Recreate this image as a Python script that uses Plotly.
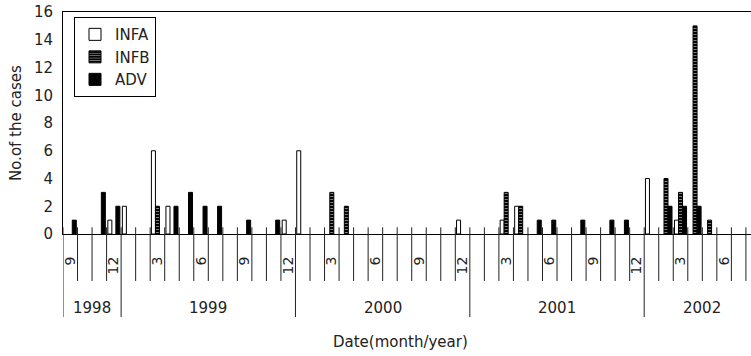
import plotly.graph_objects as go

# ---- data (months Sep 1998 .. Aug 2002) ----
month_numbers = [9, 10, 11, 12,
                 1, 2, 3, 4, 5, 6, 7, 8, 9, 10, 11, 12,
                 1, 2, 3, 4, 5, 6, 7, 8, 9, 10, 11, 12,
                 1, 2, 3, 4, 5, 6, 7, 8, 9, 10, 11, 12,
                 1, 2, 3, 4, 5, 6, 7, 8]
infa = [0, 0, 0, 1,
        2, 0, 6, 2, 0, 0, 0, 0, 0, 0, 0, 1,
        6, 0, 0, 0, 0, 0, 0, 0, 0, 0, 0, 1,
        0, 0, 1, 2, 0, 0, 0, 0, 0, 0, 0, 0,
        4, 0, 1, 0, 0, 0, 0, 0]
infb = [0, 0, 0, 0,
        0, 0, 2, 0, 0, 0, 0, 0, 0, 0, 0, 0,
        0, 0, 3, 2, 0, 0, 0, 0, 0, 0, 0, 0,
        0, 0, 3, 2, 0, 0, 0, 0, 0, 0, 0, 0,
        0, 4, 3, 15, 1, 0, 0, 0]
adv = [1, 0, 3, 2,
       0, 0, 0, 2, 3, 2, 2, 0, 1, 0, 1, 0,
       0, 0, 0, 0, 0, 0, 0, 0, 0, 0, 0, 0,
       0, 0, 0, 0, 1, 1, 0, 1, 0, 1, 1, 0,
       0, 2, 2, 2, 0, 0, 0, 0]
labelled_months = [9, 12, 3, 6]
years = ["1998", "1999", "2000", "2001", "2002"]
y_ticks = [0, 2, 4, 6, 8, 10, 12, 14, 16]

FONT = "DejaVu Sans"
n = len(month_numbers)
xc = [i + 0.5 for i in range(n)]


def nz(v):
    return [val if val else None for val in v]


fig = go.Figure()
fig.add_trace(go.Bar(x=xc, y=nz(infa), name="INFA",
                     marker=dict(color="white", line=dict(color="black", width=1))))
fig.add_trace(go.Bar(x=xc, y=nz(infb), name="INFB",
                     marker=dict(color="black", line=dict(color="black", width=1),
                                 pattern=dict(shape="-", fgcolor="white", bgcolor="black",
                                              size=3, solidity=0.35, fillmode="overlay"))))
fig.add_trace(go.Bar(x=xc, y=nz(adv), name="ADV",
                     marker=dict(color="black", line=dict(color="black", width=1))))

# year boundaries (index of first month of each year) + end
year_starts = [0] + [i for i in range(1, n) if month_numbers[i] == 1]
year_bounds = year_starts + [n]

shapes = []
for k in range(n + 1):
    deep = k in year_bounds
    shapes.append(dict(type="line", xref="x", yref="paper", x0=k, x1=k,
                       y0=0.03, y1=-0.374 if deep else -0.2117,
                       line=dict(color="#222", width=1)))

annotations = []
for j, yr in enumerate(years):
    annotations.append(dict(text=yr, xref="x", yref="paper",
                            x=(year_bounds[j] + year_bounds[j + 1]) / 2, y=-0.333,
                            showarrow=False, xanchor="center", yanchor="middle",
                            font=dict(family=FONT, size=15, color="#222")))
annotations.append(dict(text="Date(month/year)", xref="paper", yref="paper",
                        x=0.491, y=-0.4865, showarrow=False,
                        xanchor="center", yanchor="middle",
                        font=dict(family=FONT, size=15, color="#222")))
annotations.append(dict(text="No.of the cases", xref="paper", yref="paper",
                        x=-0.0683, y=0.5, showarrow=False, textangle=-90,
                        xanchor="center", yanchor="middle",
                        font=dict(family=FONT, size=15, color="#222")))

tickvals = [xc[i] for i in range(n) if month_numbers[i] in labelled_months]
ticktext = [str(month_numbers[i]) for i in range(n) if month_numbers[i] in labelled_months]

fig.update_layout(
    width=751, height=356,
    margin=dict(l=63, r=0, t=12, b=122, autoexpand=False),
    paper_bgcolor="white", plot_bgcolor="white",
    barmode="group", bargap=0.17, bargroupgap=0,
    showlegend=True,
    legend=dict(x=0.016, y=0.977, xanchor="left", yanchor="top",
                bordercolor="black", borderwidth=1, bgcolor="white",
                font=dict(family=FONT, size=15, color="#222"),
                tracegroupgap=0, itemwidth=30),
    shapes=shapes, annotations=annotations,
    font=dict(family=FONT, color="#222"),
)
fig.update_xaxes(range=[0, 688 / 14.53], tickmode="array", tickvals=tickvals,
                 ticktext=ticktext, tickangle=-90, ticks="", ticklabelstandoff=16,
                 automargin=False,
                 tickfont=dict(family=FONT, size=14, color="#222"),
                 showgrid=False, zeroline=False, showline=True, linecolor="black",
                 linewidth=1, mirror=True)
fig.update_yaxes(range=[0, 16], tickmode="array", tickvals=y_ticks, ticks="",
                 ticklabelstandoff=6, automargin=False,
                 tickfont=dict(family=FONT, size=15, color="#222"),
                 showgrid=False, zeroline=False, showline=True, linecolor="black",
                 linewidth=1, mirror=False)

fig.write_html("out.html", config={"displayModeBar": False},
               post_script="document.body.style.margin='0';document.body.style.overflow='hidden';")
